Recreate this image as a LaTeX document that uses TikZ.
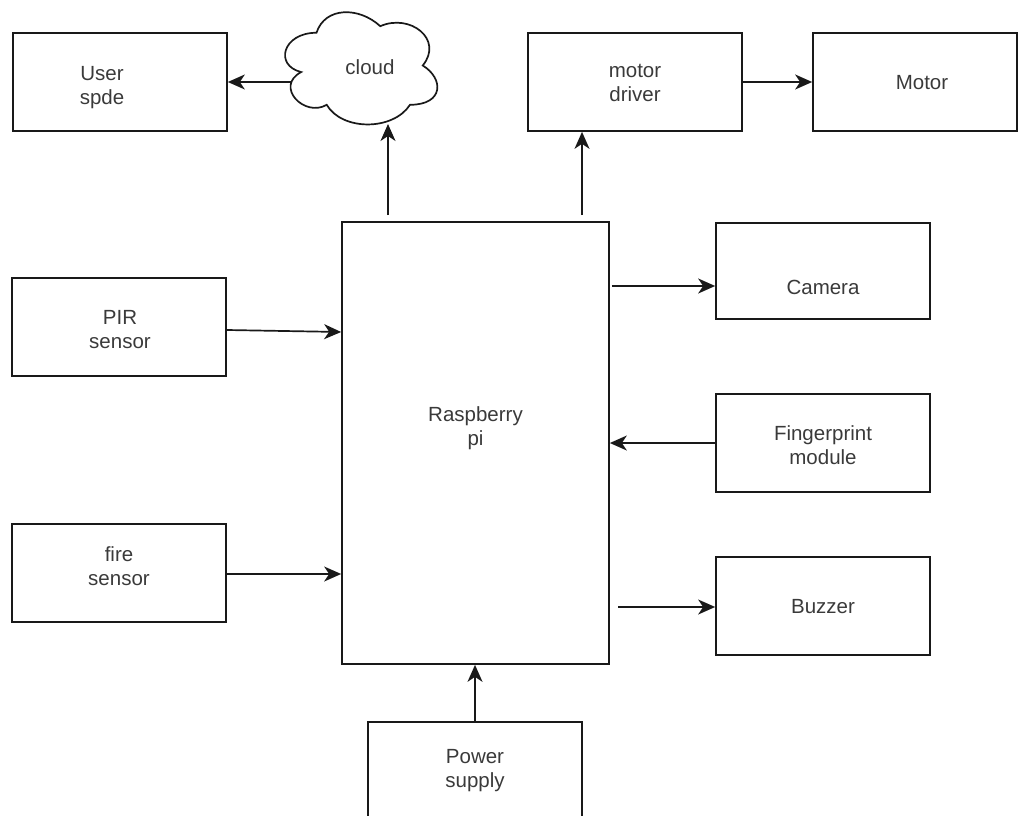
\documentclass[tikz,border=0pt]{standalone}
\usepackage{fontspec}
\setmainfont{Liberation Sans}
\usetikzlibrary{arrows.meta,calc}
\definecolor{txt}{HTML}{3A3A3A}
\begin{document}
\begin{tikzpicture}[x=1pt,y=-1pt,
  box/.style={draw=black!90, line width=1.7pt, minimum width=214pt, minimum height=98pt, inner sep=0pt, anchor=center},
  lbl/.style={text=txt, align=center, font=\fontsize{20.5}{24}\selectfont},
  conn/.style={draw=black!90, line width=1.7pt, -{Stealth[length=17pt,width=15pt,inset=5pt]}}]
\useasboundingbox (0,0) rectangle (1018,816);
% boxes
\node[box, label={[lbl,shift={(-18,6)}]center:User\\spde}] (user) at (120,82) {};
\node[box, label={[lbl,shift={(0,1)}]center:motor\\driver}] (md) at (635,82) {};
\node[box, minimum width=204pt, label={[lbl,shift={(7,1)}]center:Motor}] (motor) at (915,82) {};
\node[box, minimum width=267pt, minimum height=442pt, label={[lbl,shift={(0,-15)}]center:Raspberry\\pi}] (rpi) at (475.5,443) {};
\node[box, minimum height=96pt, label={[lbl,shift={(0,16)}]center:Camera}] (cam) at (823,271) {};
\node[box, label={[lbl,shift={(1,3)}]center:PIR\\sensor}] (pir) at (119,327) {};
\node[box, label={[lbl,shift={(0,2)}]center:Fingerprint\\module}] (fp) at (823,443) {};
\node[box, label={[lbl,shift={(0,-7)}]center:fire\\sensor}] (fire) at (119,573) {};
\node[box, label={[lbl,shift={(0,1)}]center:Buzzer}] (buz) at (823,606) {};
\node[box, minimum height=108pt, label={[lbl,shift={(0,-5)}]center:Power\\supply}] (pow) at (475,776) {};
% cloud (draw.io style)
\begin{scope}[shift={(274,0)}, x=170pt, y=-131pt]
\draw[draw=black!90, line width=1.7pt]
  (0.25,0.25) .. controls (0.05,0.25) and (0,0.5) .. (0.16,0.55)
  .. controls (0,0.66) and (0.18,0.9) .. (0.31,0.8)
  .. controls (0.4,1) and (0.7,1) .. (0.8,0.8)
  .. controls (1,0.8) and (1,0.6) .. (0.875,0.5)
  .. controls (1,0.3) and (0.8,0.1) .. (0.625,0.2)
  .. controls (0.5,0.05) and (0.3,0.05) .. (0.25,0.25) -- cycle;
\end{scope}
\node[lbl] (cloud) at (370,67) {cloud};
\coordinate (cloudL) at (291,82);
\coordinate (cloudB) at (388,124);
% connector start points
\coordinate (rpiT1) at (388,215);
\coordinate (rpiT2) at (582,215);
\coordinate (rpiB) at (618,607);
% connectors
\draw[conn] (cloudL) -- (user.east);
\draw[conn] (rpiT1) -- (cloudB);
\draw[conn] (rpiT2) -- (md.south -| rpiT2);
\draw[conn] (md.east) -- (motor.west);
\draw[conn] (rpi.east |- cam.west) ++(2,15) -- (cam.west |- 0,286);
\draw[conn] (pir.east |- 0,330) -- (rpi.west |- 0,332);
\draw[conn] (fp.west) -- (rpi.east |- fp.west);
\draw[conn] (fire.east |- 0,574) -- (rpi.west |- 0,574);
\draw[conn] (rpiB) -- (buz.west |- rpiB);
\draw[conn] (pow.north) -- (rpi.south -| pow.north);
\end{tikzpicture}
\end{document}
